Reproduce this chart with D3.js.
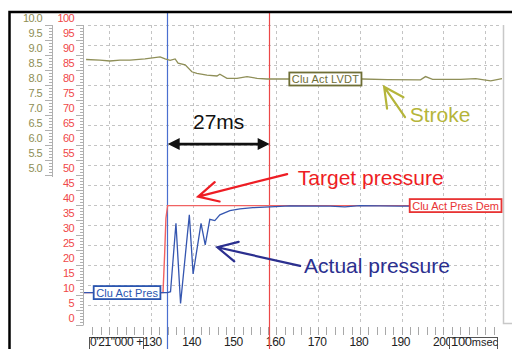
<!DOCTYPE html>
<html>
<head>
<meta charset="utf-8">
<script src="https://cdn.jsdelivr.net/npm/d3@7"></script>
<style>
  body { margin: 0; background: #fff; }
  svg { display: block; font-family: "Liberation Sans", Arial, sans-serif; }
</style>
</head>
<body>
<div id="wrapper"></div>
<script>
// tick labels
const redTicks = [0, 5, 10, 15, 20, 25, 30, 35, 40, 45, 50, 55, 60, 65, 70, 75, 80, 85, 90, 95, 100];
const oliveTicks = ["5.0", "5.5", "6.0", "6.5", "7.0", "7.5", "8.0", "8.5", "9.0", "9.5", "10.0"];
const timeTicks = [140, 150, 160, 170, 180, 190, 200];
const cursorTimes = [133.9, 158.3];

// Clu Act LVDT (stroke, left axis 0-10)
const strokeTime = [114.5, 117.8, 120.2, 122.6, 125.0, 128.6, 132.2, 133.4, 134.6, 135.8, 136.5, 138.2, 139.8, 141.0, 143.4, 145.8, 146.5, 148.2, 150.6, 153.0, 155.4, 157.8, 163.3, 172.9, 180.6, 186.6, 194.5, 195.7, 197.4, 204.1, 207.7, 211.3, 214.0];
const strokeValue = [8.85, 8.83, 8.80, 8.83, 8.83, 8.87, 8.94, 8.87, 8.82, 8.87, 8.73, 8.67, 8.44, 8.39, 8.33, 8.30, 8.36, 8.22, 8.22, 8.28, 8.22, 8.20, 8.20, 8.20, 8.20, 8.18, 8.17, 8.28, 8.19, 8.19, 8.21, 8.14, 8.21];

// Clu Act Pres Dem (target pressure)
const targetTime = [114.0, 132.9, 133.3, 133.6, 134.0, 214.0];
const targetValue = [10.8, 10.8, 23.9, 35.6, 39.8, 39.8];

// Clu Act Pres (actual pressure)
const actualTime = [114.0, 134.0, 134.7, 136.0, 137.1, 139.2, 140.1, 142.0, 143.0, 144.1, 145.3, 146.5, 148.9, 151.3, 154.4, 158.5, 163.3, 172.9, 176.4, 180.0, 189.6, 214.0];
const actualValue = [10.8, 10.8, 11.1, 33.9, 7.2, 36.7, 17.0, 33.9, 26.7, 35.2, 34.8, 36.7, 38.1, 38.7, 39.1, 39.4, 39.7, 39.6, 39.4, 39.8, 39.6, 39.7];

const dimensions = {
  width: 512,
  height: 349,
  plot: { left: 84, right: 502, top: 25, bottom: 325 },
};

const svg = d3
  .select("#wrapper")
  .append("svg")
  .attr("width", dimensions.width)
  .attr("height", dimensions.height);

svg.append("rect").attr("width", dimensions.width).attr("height", dimensions.height).attr("fill", "#fff");

const xScale = d3.scaleLinear().domain([114, 214]).range([dimensions.plot.left, dimensions.plot.right]);
const yRed = d3.scaleLinear().domain([0, 100]).range([dimensions.plot.bottom, dimensions.plot.top]);
const yOlive = d3.scaleLinear().domain([0, 10]).range([dimensions.plot.bottom, dimensions.plot.top]);

// grid
const grid = svg.append("g").attr("stroke", "#c4c4c4").attr("stroke-dasharray", "3,3").attr("stroke-width", 1);
d3.range(0, 15).forEach((i) => {
  const y = Math.round(yRed(100 - (i * 100) / 15)) + 0.5;
  grid.append("line").attr("x1", 88).attr("x2", dimensions.plot.right).attr("y1", y).attr("y2", y);
});
d3.range(120, 211, 10).forEach((t) => {
  const x = Math.round(xScale(t)) + 0.5;
  grid.append("line").attr("x1", x).attr("x2", x).attr("y1", dimensions.plot.top).attr("y2", dimensions.plot.bottom);
});

// right border of plot
svg.append("path")
  .attr("d", `M503.5,${dimensions.plot.top} V323.5 H512`)
  .attr("fill", "none")
  .attr("stroke", "#c8c8c8")
  .attr("stroke-width", 1.5);

// olive axis
const oliveAxis = svg.append("g").attr("stroke", "#b0b0b0").attr("stroke-width", 1);
oliveAxis.append("line").attr("x1", 52.5).attr("x2", 52.5).attr("y1", yOlive(10)).attr("y2", yOlive(5) + 2);
d3.range(50, 101, 1).forEach((k) => {
  const y = Math.round(yOlive(k / 10)) + 0.5;
  const major = k % 5 === 0;
  oliveAxis.append("line").attr("x1", major ? 45 : 49).attr("x2", 52.5).attr("y1", y).attr("y2", y);
});
svg.append("g")
  .selectAll("text")
  .data(oliveTicks)
  .join("text")
  .attr("x", 42)
  .attr("y", (d) => yOlive(+d) - 3)
  .attr("text-anchor", "end")
  .attr("fill", "#8e8e55")
  .style("font-size", "11px")
  .style("letter-spacing", "-0.6px")
  .text((d) => d);

// red axis
const redAxis = svg.append("g").attr("stroke", "#b0b0b0").attr("stroke-width", 1);
redAxis.append("line").attr("x1", 83.5).attr("x2", 83.5).attr("y1", yRed(100)).attr("y2", yRed(0));
d3.range(0, 101, 1).forEach((v) => {
  const y = Math.round(yRed(v)) + 0.5;
  const major = v % 5 === 0;
  redAxis.append("line").attr("x1", major ? 76 : 80).attr("x2", 83.5).attr("y1", y).attr("y2", y);
});
svg.append("g")
  .selectAll("text")
  .data(redTicks)
  .join("text")
  .attr("x", 74)
  .attr("y", (d) => yRed(d) - 3)
  .attr("text-anchor", "end")
  .attr("fill", "#f04848")
  .style("font-size", "11px")
  .style("letter-spacing", "-0.6px")
  .text((d) => d);

// time axis
const timeAxis = svg.append("g").attr("stroke", "#a8a8a8").attr("stroke-width", 1);
d3.range(116, 214, 2).forEach((t) => {
  const x = Math.round(xScale(t)) + 0.5;
  timeAxis.append("line").attr("x1", x).attr("x2", x).attr("y1", 327).attr("y2", 335);
});
svg.append("g")
  .selectAll("text")
  .data(timeTicks)
  .join("text")
  .attr("x", (d) => xScale(d) - 1)
  .attr("y", 346)
  .attr("text-anchor", "middle")
  .attr("fill", "#222")
  .style("font-size", "12px")
  .style("letter-spacing", "-0.4px")
  .text((d) => d);

svg.append("rect").attr("x", 89.5).attr("y", 337.5).attr("width", 54).attr("height", 14)
  .attr("fill", "#fff").attr("stroke", "#555");
svg.append("text").attr("x", 90).attr("y", 346).attr("fill", "#222")
  .style("font-size", "12px").style("letter-spacing", "-0.4px").text("0'21\"000 +130");
svg.append("rect").attr("x", 449.5).attr("y", 337.5).attr("width", 48).attr("height", 14)
  .attr("fill", "#fff").attr("stroke", "#555");
const msec = svg.append("text").attr("x", 451).attr("y", 346).attr("fill", "#222");
msec.append("tspan").style("font-size", "13px").style("letter-spacing", "-0.3px").text("100");
msec.append("tspan").style("font-size", "11px").text("msec");

// cursors
svg.append("line")
  .attr("x1", Math.round(xScale(cursorTimes[0])) + 0.5).attr("x2", Math.round(xScale(cursorTimes[0])) + 0.5)
  .attr("y1", 13).attr("y2", dimensions.height)
  .attr("stroke", "#4a6fd0").attr("stroke-width", 1.2);
svg.append("line")
  .attr("x1", Math.round(xScale(cursorTimes[1])) + 0.5).attr("x2", Math.round(xScale(cursorTimes[1])) + 0.5)
  .attr("y1", 13).attr("y2", dimensions.height)
  .attr("stroke", "#ec4848").attr("stroke-width", 1.2);

// frame
svg.append("path")
  .attr("d", "M9.5,349 V12 H512")
  .attr("fill", "none")
  .attr("stroke", "#000")
  .attr("stroke-width", 2.5);

// series
const lineOlive = d3.line().x((d) => xScale(d[0])).y((d) => yOlive(d[1]));
const lineRed = d3.line().x((d) => xScale(d[0])).y((d) => yRed(d[1]));

svg.append("path")
  .attr("d", lineOlive(d3.zip(strokeTime, strokeValue)))
  .attr("fill", "none")
  .attr("stroke", "#8f8f58")
  .attr("stroke-width", 1.3);

svg.append("path")
  .attr("d", lineRed(d3.zip(targetTime, targetValue)))
  .attr("fill", "none")
  .attr("stroke", "#f06262")
  .attr("stroke-width", 1.4);

svg.append("path")
  .attr("d", lineRed(d3.zip(actualTime, actualValue)))
  .attr("fill", "none")
  .attr("stroke", "#3556b0")
  .attr("stroke-width", 1.3);

// series label boxes
const seriesLabels = [
  { text: "Clu Act LVDT", from: 163.0, to: 180.5, y: yOlive(8.2), color: "#6e6e36" },
  { text: "Clu Act Pres Dem", from: 191.8, to: 214.0, y: yRed(39.8), color: "#e83434" },
  { text: "Clu Act Pres", from: 116.2, to: 132.4, y: yRed(10.8), color: "#2a55b0" },
];
seriesLabels.forEach((l) => {
  const x0 = xScale(l.from);
  const w = xScale(l.to) - x0;
  svg.append("rect")
    .attr("x", x0 + 0.5).attr("y", l.y - 6.5).attr("width", w - 1).attr("height", 13)
    .attr("fill", "#fff").attr("stroke", l.color).attr("stroke-width", 1.8);
  svg.append("text")
    .attr("x", x0 + 3).attr("y", l.y + 4)
    .attr("fill", l.color)
    .attr("textLength", w - 6)
    .attr("lengthAdjust", "spacing")
    .style("font-size", "11px")
    .text(l.text);
});

// annotations
const drawArrow = (tip, tail, color, width, headLen, headAngle) => {
  const ang = Math.atan2(tail[1] - tip[1], tail[0] - tip[0]);
  const a1 = ang - headAngle;
  const a2 = ang + headAngle;
  const p1 = [tip[0] + headLen * Math.cos(a1), tip[1] + headLen * Math.sin(a1)];
  const p2 = [tip[0] + headLen * Math.cos(a2), tip[1] + headLen * Math.sin(a2)];
  svg.append("path")
    .attr("d", `M${tail} L${tip} M${p1} L${tip} L${p2}`)
    .attr("fill", "none")
    .attr("stroke", color)
    .attr("stroke-width", width)
    .attr("stroke-linecap", "round")
    .attr("stroke-linejoin", "miter");
};

const annotations = [
  { text: "Target pressure", color: "#ee1d24", at: [182.6, 46.7], tip: [141.3, 42.8], tail: [162.6, 50.3] },
  { text: "Actual pressure", color: "#2b2f8f", at: [184.1, 17.3], tip: [145.9, 25.9], tail: [165.7, 19.7] },
  { text: "Stroke", color: "#b5b53a", at: [199.2, 67.7], tip: [185.8, 79.4], tail: [190.8, 69.3] },
];
annotations.forEach((a) => {
  svg.append("text")
    .attr("x", xScale(a.at[0]))
    .attr("y", yRed(a.at[1]))
    .attr("text-anchor", "middle")
    .attr("fill", a.color)
    .style("font-size", "21px")
    .text(a.text);
  drawArrow(
    [xScale(a.tip[0]), yRed(a.tip[1])],
    [xScale(a.tail[0]), yRed(a.tail[1])],
    a.color, 2.2, 22, 0.47
  );
});

// 27ms span
const spanY = yRed(60.3);
const xa = xScale(cursorTimes[0]) + 0.5;
const xb = xScale(cursorTimes[1]) + 0.5;
svg.append("line")
  .attr("x1", xa + 8).attr("x2", xb - 8).attr("y1", spanY).attr("y2", spanY)
  .attr("stroke", "#111").attr("stroke-width", 2.6);
svg.append("path")
  .attr("d", `M${xa},${spanY} L${xa + 12},${spanY - 6} L${xa + 12},${spanY + 6} Z M${xb},${spanY} L${xb - 12},${spanY - 6} L${xb - 12},${spanY + 6} Z`)
  .attr("fill", "#111");
svg.append("text")
  .attr("x", (xa + xb) / 2)
  .attr("y", yRed(65.3))
  .attr("text-anchor", "middle")
  .attr("fill", "#111")
  .style("font-size", "21px")
  .text("27ms");
</script>
</body>
</html>
